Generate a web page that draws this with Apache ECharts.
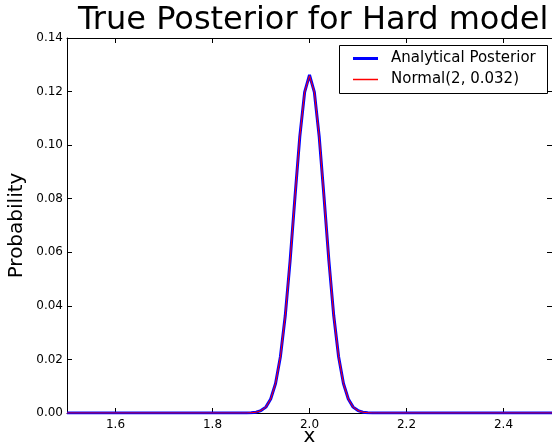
<!DOCTYPE html>
<html>
<head>
<meta charset="utf-8">
<script src="https://cdn.jsdelivr.net/npm/echarts@6/dist/echarts.min.js"></script>
<style>
  html, body { margin: 0; padding: 0; background: #fff; }
  #main { width: 552px; height: 448px; }
</style>
</head>
<body>
<div id="main"></div>
<script>
// x positions where the curve was read (flat zero outside 1.86 .. 2.14)
var xs = [1.5, 1.86, 1.87, 1.88, 1.89, 1.9, 1.91, 1.92, 1.93, 1.94, 1.95, 1.96, 1.97, 1.98, 1.99,
  2.0, 2.01, 2.02, 2.03, 2.04, 2.05, 2.06, 2.07, 2.08, 2.09, 2.1, 2.11, 2.12, 2.13, 2.14, 2.5];
var analytical = [0, 0, 0, 0.0001, 0.0003, 0.0009, 0.0022, 0.0052, 0.011, 0.021, 0.0363, 0.0568,
  0.0805, 0.1032, 0.1198, 0.1262, 0.1198, 0.1032, 0.0805, 0.0568, 0.0363, 0.021, 0.011,
  0.0052, 0.0022, 0.0009, 0.0003, 0.0001, 0, 0, 0];
var normal = [0, 0, 0, 0.0001, 0.0003, 0.0009, 0.0022, 0.0052, 0.011, 0.021, 0.0363, 0.0568,
  0.0805, 0.1032, 0.1198, 0.1259, 0.1198, 0.1032, 0.0805, 0.0568, 0.0363, 0.021, 0.011,
  0.0052, 0.0022, 0.0009, 0.0003, 0.0001, 0, 0, 0];
var xTicks = [1.6, 1.8, 2.0, 2.2, 2.4];
var seriesNames = ["Analytical Posterior", "Normal(2, 0.032)"];

function pairs(ys) {
  return xs.map(function (x, i) { return [x, ys[i]]; });
}

var font = "DejaVu Sans";
var chart = echarts.init(document.getElementById("main"));

var option = {
  animation: false,
  backgroundColor: "#fff",
  title: {
    text: "True Posterior for Hard model",
    left: 73,
    top: 0,
    textStyle: { fontFamily: font, fontSize: 32, fontWeight: "normal", color: "#000" }
  },
  grid: { left: 67, right: 0, top: 38, bottom: 35, outerBoundsMode: "none", containLabel: false },
  xAxis: [
    {
      type: "value",
      min: 1.5,
      max: 2.5,
      name: "x",
      nameLocation: "middle",
      nameGap: 14,
      nameMoveOverlap: false,
      nameTextStyle: { fontFamily: font, fontSize: 20, color: "#000" },
      axisLine: { onZero: false, lineStyle: { color: "#000", width: 1 } },
      axisTick: { inside: true, length: 5, customValues: xTicks, lineStyle: { color: "#000" } },
      axisLabel: {
        customValues: xTicks,
        margin: 6,
        fontFamily: font, fontSize: 12, color: "#000",
        formatter: function (v) { return v.toFixed(1); }
      },
      splitLine: { show: false }
    },
    {
      type: "value",
      position: "top",
      min: 1.5,
      max: 2.5,
      axisLine: { onZero: false, lineStyle: { color: "#000", width: 1 } },
      axisTick: { inside: true, length: 5, customValues: xTicks, lineStyle: { color: "#000" } },
      axisLabel: { show: false },
      splitLine: { show: false }
    }
  ],
  yAxis: [
    {
      type: "value",
      min: 0,
      max: 0.14,
      interval: 0.02,
      name: "Probability",
      nameLocation: "middle",
      nameGap: 40,
      nameMoveOverlap: false,
      nameTextStyle: { fontFamily: font, fontSize: 20, color: "#000" },
      axisLine: { show: true, onZero: false, lineStyle: { color: "#000", width: 1 } },
      axisTick: { show: true, inside: true, length: 5, lineStyle: { color: "#000" } },
      axisLabel: {
        margin: 4,
        fontFamily: font, fontSize: 12, color: "#000",
        formatter: function (v) { return v.toFixed(2); }
      },
      splitLine: { show: false }
    },
    {
      type: "value",
      position: "right",
      min: 0,
      max: 0.14,
      interval: 0.02,
      axisLine: { show: true, onZero: false, lineStyle: { color: "#000", width: 1 } },
      axisTick: { show: true, inside: true, length: 5, lineStyle: { color: "#000" } },
      axisLabel: { show: false },
      splitLine: { show: false }
    }
  ],
  legend: [
    {
      data: [{ name: seriesNames[0], icon: "rect", itemStyle: { color: "#0000ff" } }],
      left: 348,
      top: 46,
      orient: "vertical",
      itemWidth: 25,
      itemHeight: 3,
      textStyle: { fontFamily: font, fontSize: 15, color: "#000", padding: [0, 0, 0, 8] }
    },
    {
      data: [{ name: seriesNames[1], icon: "rect", itemStyle: { color: "#ff0000" } }],
      left: 348,
      top: 67,
      orient: "vertical",
      itemWidth: 25,
      itemHeight: 1.5,
      textStyle: { fontFamily: font, fontSize: 15, color: "#000", padding: [0, 0, 0, 8] }
    }
  ],
  graphic: [
    {
      type: "rect",
      shape: { x: 339.5, y: 45.5, width: 208, height: 48 },
      style: { fill: null, stroke: "#000", lineWidth: 1 },
      z: 10
    }
  ],
  series: [
    {
      name: seriesNames[0],
      type: "line",
      data: pairs(analytical),
      symbol: "none",
      color: "#0000ff",
      lineStyle: { color: "#0000ff", width: 3 }
    },
    {
      name: seriesNames[1],
      type: "line",
      data: pairs(normal),
      symbol: "none",
      color: "#ff0000",
      lineStyle: { color: "#ff0000", width: 1 }
    }
  ]
};

chart.setOption(option);
</script>
</body>
</html>
